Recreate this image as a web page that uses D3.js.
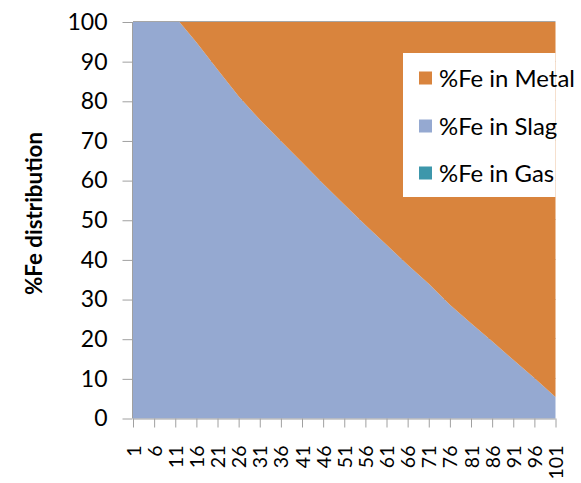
<!DOCTYPE html>
<html>
<head>
<meta charset="utf-8">
<script src="https://cdn.jsdelivr.net/npm/d3@7"></script>
<style>
  html, body { margin: 0; padding: 0; background: #fff; }
  svg { display: block; }
  text { font-family: Lato, "Open Sans", sans-serif; fill: #000; }
</style>
</head>
<body>
<svg id="chart" width="581" height="483"></svg>
<script>
// ---- data ----
const xPoints   = [1, 6, 11, 12, 16, 21, 26, 31, 36, 41, 46, 51, 56, 61, 66, 71, 76, 81, 86, 91, 96, 101];
const slagPct   = [100, 100, 100, 100, 94.9, 88, 81.3, 75.4, 70, 64.6, 59.2, 54, 48.8, 43.8, 38.8, 34, 28.7, 24, 19.5, 14.8, 10.2, 5.4];
const metalPct  = [0, 0, 0, 0, 5.1, 12, 18.7, 24.6, 30, 35.4, 40.8, 46, 51.2, 56.2, 61.2, 66, 71.3, 76, 80.5, 85.2, 89.8, 94.6];
const gasPct    = [0, 0, 0, 0, 0, 0, 0, 0, 0, 0, 0, 0, 0, 0, 0, 0, 0, 0, 0, 0, 0, 0];
const xTickLabels = [1, 6, 11, 16, 21, 26, 31, 36, 41, 46, 51, 56, 61, 66, 71, 76, 81, 86, 91, 96, 101];
const yTickLabels = [0, 10, 20, 30, 40, 50, 60, 70, 80, 90, 100];
const seriesNames = ["%Fe in Metal", "%Fe in Slag", "%Fe in Gas"];
const seriesColors = {"%Fe in Metal": "#d9843d", "%Fe in Slag": "#95a9d1", "%Fe in Gas": "#3d97ab"};
const yTitle = "%Fe distribution";

const rows = xPoints.map((xv, i) => ({
  x: xv,
  "%Fe in Gas": gasPct[i],
  "%Fe in Slag": slagPct[i],
  "%Fe in Metal": metalPct[i]
}));

const svg = d3.select("#chart");
const pLeft = 133, pRight = 555.5, pTop = 22, pBottom = 418.5;

const x = d3.scaleLinear().domain([1, 101]).range([pLeft, pRight]);
const y = d3.scaleLinear().domain([0, 100]).range([pBottom, pTop]);

// gridlines (behind the areas)
svg.append("g")
  .selectAll("line").data(yTickLabels.filter(v => v > 0)).join("line")
  .attr("x1", pLeft).attr("x2", pRight)
  .attr("y1", d => Math.round(y(d)) - 0.5).attr("y2", d => Math.round(y(d)) - 0.5)
  .attr("stroke", "#a6a6a6").attr("stroke-width", 1);

// stacked areas: Gas at bottom, then Slag, then Metal on top
const stack = d3.stack().keys(["%Fe in Gas", "%Fe in Slag", "%Fe in Metal"]);
const layers = stack(rows);
const area = d3.area()
  .x(d => x(d.data.x))
  .y0(d => y(d[0]))
  .y1(d => y(d[1]));

svg.append("g").selectAll("path").data(layers).join("path")
  .attr("d", area)
  .attr("fill", d => seriesColors[d.key])
  .attr("stroke", "none");

// y axis
const yAxis = d3.axisLeft(y).tickValues(yTickLabels).tickSize(10).tickPadding(15)
  .tickFormat(d3.format("d"));
const gy = svg.append("g").attr("transform", `translate(${pLeft - 0.5},0)`).call(yAxis);
gy.select(".domain").attr("stroke", "#a0a0a0").attr("d", `M0,${pTop}V${pBottom}`);
gy.selectAll(".tick line").attr("stroke", "#a0a0a0");
gy.selectAll(".tick text").attr("font-size", "23px").attr("font-family", "Lato, sans-serif").attr("fill", "#000");

// x axis
const xAxis = d3.axisBottom(x).tickValues(xTickLabels).tickSize(9).tickPadding(0)
  .tickFormat(d3.format("d"));
const gx = svg.append("g").attr("transform", `translate(0,${pBottom})`).call(xAxis);
gx.select(".domain").attr("stroke", "#a0a0a0").attr("d", `M${pLeft},0.5H${pRight}`);
gx.selectAll(".tick line").attr("stroke", "#a0a0a0");
gx.selectAll(".tick text")
  .attr("font-size", "19.5px").attr("font-family", "Lato, sans-serif").attr("fill", "#000")
  .attr("text-anchor", "end")
  .attr("transform", "translate(0,27) rotate(-90)")
  .attr("x", 0).attr("y", 0).attr("dy", "0.36em");

// y title
const yt = svg.append("text")
  .attr("transform", "translate(42,213.5) rotate(-90)")
  .attr("text-anchor", "middle")
  .attr("font-weight", "bold")
  .attr("font-size", "20px")
  .text(yTitle);
const targetLen = 163;
const curLen = yt.node().getComputedTextLength();
yt.attr("font-size", (20 * targetLen / curLen).toFixed(2) + "px");

// legend
const lg = svg.append("g");
lg.append("rect").attr("x", 403).attr("y", 53).attr("width", 152.5).attr("height", 144).attr("fill", "#fff");
const legendRowsY = [78, 126, 173];
const legTexts = [];
seriesNames.forEach((name, i) => {
  const cy = legendRowsY[i];
  lg.append("rect").attr("x", 419).attr("y", cy - 6.5).attr("width", 13).attr("height", 13)
    .attr("fill", seriesColors[name]);
  legTexts.push(lg.append("text").attr("x", 439).attr("y", cy).attr("dy", "0.36em")
    .attr("font-size", "20px").text(name));
});
const legLen = legTexts[0].node().getComputedTextLength();
const legSize = (20 * 136 / legLen).toFixed(2) + "px";
legTexts.forEach(t => t.attr("font-size", legSize));
</script>
</body>
</html>
